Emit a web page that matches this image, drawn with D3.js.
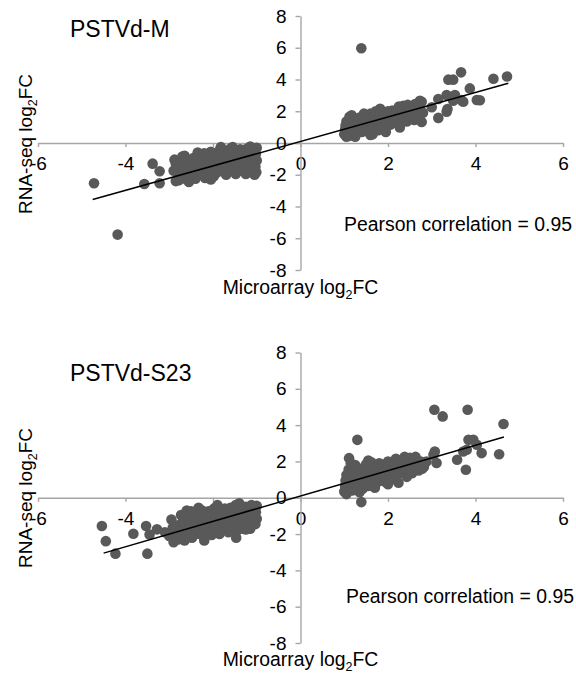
<!DOCTYPE html>
<html><head><meta charset="utf-8">
<script src="https://cdn.jsdelivr.net/npm/d3@7"></script>
<style>body{margin:0;background:#fff;} svg{display:block;font-family:"Liberation Sans",Arial,sans-serif;}</style>
</head><body><svg id="c" width="576" height="673"></svg>
<script>
const xTicks = [-6,-4,-2,0,2,4,6];
const yTicks = [-8,-6,-4,-2,0,2,4,6,8];
const titles = ["PSTVd-M","PSTVd-S23"];
const pearsonText = ["Pearson correlation = 0.95","Pearson correlation = 0.95"];

// PSTVd-M
const mOutliers = [[-4.72,-2.54],[-4.18,-5.77],[-3.57,-2.58],[-3.38,-1.30],[-3.22,-1.78],[-3.22,-2.54],
 [1.39,5.97],[3.67,4.45],[3.38,3.99],[3.49,3.99],[4.41,4.05],[4.72,4.19],[3.87,3.44],[4.03,2.71],[4.10,2.69],
 [3.68,2.70],[3.34,3.02],[3.15,2.77],[3.36,2.14],[3.15,1.58],[3.53,3.02],[3.49,2.66],[3.72,2.60],[2.73,2.66],
 [2.73,2.24],[3.00,2.25],[2.77,1.32],[2.27,0.98],[3.34,1.97]];
const mPos = [[1.00,0.55],[1.02,0.85],[1.03,1.10],[1.05,1.35],[1.08,0.70],[1.10,1.00],[1.12,0.45],[1.15,1.25],[1.17,1.75],[1.20,0.80],
 [1.22,1.50],[1.25,1.05],[1.28,0.60],[1.30,1.30],[1.33,0.90],[1.35,1.60],[1.38,1.15],[1.40,0.70],[1.42,1.40],[1.45,0.95],
 [1.48,1.20],[1.50,1.70],[1.52,0.75],[1.55,1.45],[1.58,1.00],[1.60,1.85],[1.62,1.25],[1.65,0.55],[1.68,1.55],[1.70,1.05],
 [1.72,2.00],[1.75,1.35],[1.78,0.80],[1.80,1.65],[1.82,2.15],[1.85,1.20],[1.88,1.90],[1.90,1.45],[1.93,1.00],[1.95,1.75],
 [1.98,1.30],[2.00,2.00],[2.03,1.55],[2.05,1.15],[2.08,1.80],[2.10,2.05],[2.13,1.40],[2.15,1.70],[2.18,1.95],[2.20,1.25],
 [2.23,1.60],[2.28,1.85],[2.30,2.15],[2.33,1.50],[2.35,2.35],[2.38,1.75],[2.40,2.05],[2.43,1.35],[2.45,2.40],[2.48,1.90],
 [2.50,2.20],[2.53,1.65],[2.55,2.00],[2.58,2.30],[2.60,1.45],[2.63,1.80],[2.65,2.10],[2.70,1.55],[2.77,2.60],[2.80,1.90],
 [1.12,1.65],[1.25,0.40],[1.45,1.85],[1.60,0.50],[1.95,0.70],[2.25,2.30],[1.05,0.40],[2.62,2.45]];
const mNeg = [[-1.00,-0.30],[-1.02,-0.70],[-1.00,-1.10],[-1.03,-1.50],[-1.01,-1.85],[-1.06,-0.95],[-1.10,-0.40],[-1.12,-1.30],
 [-1.15,-0.65],[-1.18,-1.05],[-1.20,-1.60],[-1.22,-0.35],[-1.25,-0.85],[-1.28,-1.25],[-1.30,-0.55],[-1.33,-1.75],[-1.35,-1.00],
 [-1.38,-0.40],[-1.40,-1.40],[-1.43,-0.75],[-1.45,-1.15],[-1.48,-1.95],[-1.50,-0.50],[-1.53,-1.55],[-1.55,-0.90],[-1.58,-1.30],
 [-1.60,-0.35],[-1.63,-1.75],[-1.65,-0.70],[-1.68,-1.10],[-1.70,-2.00],[-1.73,-0.50],[-1.75,-1.45],[-1.78,-0.85],[-1.80,-1.20],
 [-1.83,-1.65],[-1.85,-0.45],[-1.88,-1.00],[-1.90,-1.85],[-1.93,-0.70],[-1.95,-1.35],[-1.98,-2.10],[-2.00,-0.95],[-2.03,-1.60],
 [-2.05,-0.55],[-2.08,-1.20],[-2.10,-1.95],[-2.13,-0.80],[-2.15,-1.45],[-2.18,-2.20],[-2.20,-0.65],[-2.23,-1.05],[-2.25,-1.75],
 [-2.28,-1.30],[-2.30,-2.00],[-2.33,-0.90],[-2.35,-1.55],[-2.38,-1.15],[-2.40,-2.25],[-2.43,-1.80],[-2.45,-0.95],[-2.48,-1.40],
 [-2.50,-2.05],[-2.55,-1.60],[-2.58,-1.10],[-2.60,-2.30],[-2.63,-1.85],[-2.65,-1.35],[-2.70,-0.85],[-2.72,-2.10],[-2.75,-1.60],
 [-2.78,-2.35],[-2.80,-1.90],[-2.85,-1.30],
 [-1.05,-2.00],[-1.25,-1.95],[-2.55,-2.45],[-2.85,-2.40],[-2.88,-1.05],[-1.55,-0.25],[-1.82,-0.25],[-2.05,-2.30],[-2.35,-0.60],
 [-1.15,-0.22],[-2.65,-0.80],[-2.90,-1.75]];
const mFit = [[-4.75,-3.56],[4.75,3.76]];

// PSTVd-S23
const sOutliers = [[-4.54,-1.56],[-4.45,-2.39],[-4.23,-3.08],[-3.82,-1.98],[-3.53,-1.56],[-3.50,-3.08],[-3.45,-2.02],[-3.28,-1.74],
 [-1.47,-2.20],[-1.15,-1.71],[1.39,-0.24],[1.30,3.19],[1.11,2.18],[3.06,4.85],[3.25,4.48],[3.82,4.85],[4.64,4.06],
 [4.54,2.40],[4.14,2.46],[3.95,3.19],[3.84,3.19],[4.03,2.92],[3.72,2.55],[3.80,2.64],[3.58,2.09],[3.78,1.54],
 [3.07,2.55],[3.11,1.91],[3.04,2.37],[2.88,2.00],[2.24,0.83]];
const sPos = [[1.00,0.35],[1.02,0.65],[1.03,0.95],[1.05,1.25],[1.07,0.50],[1.10,1.55],[1.12,0.80],[1.15,1.10],[1.18,0.40],[1.20,1.40],
 [1.22,0.70],[1.25,1.80],[1.27,1.00],[1.30,0.55],[1.32,1.30],[1.35,0.85],[1.38,1.60],[1.40,1.10],[1.42,0.50],[1.45,1.45],
 [1.48,0.90],[1.50,1.85],[1.52,1.20],[1.55,0.65],[1.58,1.55],[1.60,1.00],[1.62,1.95],[1.65,1.30],[1.68,0.75],[1.70,1.70],
 [1.72,1.10],[1.75,1.45],[1.78,0.90],[1.80,1.90],[1.82,1.25],[1.85,1.60],[1.88,1.00],[1.90,1.80],[1.93,1.35],[1.95,0.85],
 [1.98,1.55],[2.00,2.00],[2.03,1.20],[2.05,1.70],[2.08,1.40],[2.10,1.95],[2.13,1.05],[2.15,1.60],[2.18,2.15],[2.20,1.30],
 [2.23,1.80],[2.28,1.55],[2.30,2.05],[2.33,1.35],[2.35,1.85],[2.38,2.25],[2.40,1.60],[2.43,1.15],[2.45,2.00],[2.48,1.45],
 [2.50,2.20],[2.53,1.75],[2.55,1.35],[2.58,2.05],[2.60,1.60],[2.63,2.25],[2.65,1.85],[2.70,1.50],[2.75,2.00],[2.78,1.60],[2.82,1.70],
 [1.15,1.90],[1.35,0.30],[1.05,0.20],[1.70,0.55],[2.00,0.75],[1.55,2.05]];
const sNeg = [[-1.00,-0.45],[-1.02,-0.80],[-1.00,-1.15],[-1.03,-1.45],[-1.06,-0.60],[-1.10,-1.00],[-1.12,-0.40],[-1.15,-1.30],
 [-1.18,-0.75],[-1.20,-1.55],[-1.23,-1.05],[-1.25,-0.50],[-1.28,-1.35],[-1.30,-0.85],[-1.33,-1.70],[-1.35,-1.15],[-1.38,-0.55],
 [-1.40,-1.45],[-1.43,-0.95],[-1.45,-1.80],[-1.48,-0.40],[-1.50,-1.25],[-1.53,-0.75],[-1.55,-1.60],[-1.58,-1.05],[-1.60,-0.55],
 [-1.63,-1.40],[-1.65,-1.90],[-1.68,-0.85],[-1.70,-1.20],[-1.73,-0.60],[-1.75,-1.65],[-1.78,-1.00],[-1.80,-1.35],[-1.83,-0.70],
 [-1.85,-2.00],[-1.88,-1.20],[-1.90,-1.55],[-1.93,-0.90],[-1.95,-1.80],[-1.98,-0.60],[-2.00,-1.35],[-2.03,-2.05],[-2.05,-1.05],
 [-2.08,-1.65],[-2.10,-0.75],[-2.13,-1.30],[-2.15,-1.90],[-2.18,-0.95],[-2.20,-1.50],[-2.23,-2.10],[-2.25,-0.70],[-2.28,-1.20],
 [-2.30,-1.75],[-2.33,-0.55],[-2.35,-1.40],[-2.38,-2.00],[-2.40,-0.90],[-2.43,-1.60],[-2.45,-1.15],[-2.48,-2.20],[-2.50,-0.75],
 [-2.53,-1.85],[-2.55,-1.35],[-2.58,-1.00],[-2.60,-2.05],[-2.63,-1.55],[-2.65,-2.35],[-2.68,-1.20],[-2.70,-1.80],[-2.73,-0.95],
 [-2.75,-2.15],[-2.78,-1.50],[-2.80,-2.30],[-2.83,-1.70],[-2.88,-2.00],[-2.92,-1.65],[-3.00,-2.10],[-3.10,-1.90],
 [-1.40,-0.30],[-1.90,-0.40],[-2.60,-0.70],[-2.90,-2.45],[-2.20,-2.35],[-1.25,-1.75],[-2.95,-1.20]];
const sFit = [[-4.5,-3.05],[4.65,3.35]];

const panels = [
  {title: titles[0], pearson: pearsonText[0], pts: mNeg.concat(mPos, mOutliers), fit: mFit,
   yr: [270, 16], titleY: 37, yTitleY: 144, xTitleY: 294, pX: 344, pY: 231},
  {title: titles[1], pearson: pearsonText[1], pts: sNeg.concat(sPos, sOutliers), fit: sFit,
   yr: [643, 352.5], titleY: 381, yTitleY: 498, xTitleY: 666, pX: 346, pY: 603}
];

const svg = d3.select("#c");
const axisColor = "#a6a6a6";
const fs = 19;

panels.forEach(p => {
  const x = d3.scaleLinear().domain([-6, 6]).range([38, 563]);
  const y = d3.scaleLinear().domain([-8, 8]).range(p.yr);
  const g = svg.append("g");

  const xa = g.append("g").attr("transform", `translate(0,${y(0)})`)
    .call(d3.axisBottom(x).tickValues(xTicks).tickSize(4).tickSizeOuter(0).tickPadding(10).tickFormat(d => String(d)));
  const ya = g.append("g").attr("transform", `translate(${x(0)},0)`)
    .call(d3.axisLeft(y).tickValues(yTicks).tickSize(5).tickSizeOuter(0).tickPadding(9).tickFormat(d => String(d)));
  [xa, ya].forEach(a => {
    a.select(".domain").attr("stroke", axisColor).attr("stroke-width", 1.4);
    a.selectAll(".tick line").attr("stroke", axisColor).attr("stroke-width", 1.4);
    a.selectAll(".tick text").attr("fill", "#000").attr("font-size", fs).attr("font-family", "Liberation Sans, Arial, sans-serif");
  });

  g.append("g").selectAll("circle").data(p.pts).join("circle")
    .attr("cx", d => x(d[0])).attr("cy", d => y(d[1])).attr("r", 5.3).attr("fill", "#595959");

  g.append("line").attr("x1", x(p.fit[0][0])).attr("y1", y(p.fit[0][1]))
    .attr("x2", x(p.fit[1][0])).attr("y2", y(p.fit[1][1])).attr("stroke", "#000").attr("stroke-width", 1.5);

  g.append("text").attr("x", 70).attr("y", p.titleY).attr("font-size", 23).text(p.title);
  g.append("text").attr("x", p.pX).attr("y", p.pY).attr("font-size", 19.4).text(p.pearson);

  const xt = g.append("text").attr("x", x(0)).attr("y", p.xTitleY).attr("font-size", 19.4).attr("text-anchor", "middle");
  xt.append("tspan").text("Microarray log");
  xt.append("tspan").attr("font-size", 12.5).attr("dy", 5).text("2");
  xt.append("tspan").attr("dy", -5).text("FC");

  const yt = g.append("text").attr("transform", `translate(32,${p.yTitleY}) rotate(-90)`).attr("font-size", 19).attr("text-anchor", "middle");
  yt.append("tspan").text("RNA-seq log");
  yt.append("tspan").attr("font-size", 12.5).attr("dy", 5).text("2");
  yt.append("tspan").attr("dy", -5).text("FC");
});
</script></body></html>
